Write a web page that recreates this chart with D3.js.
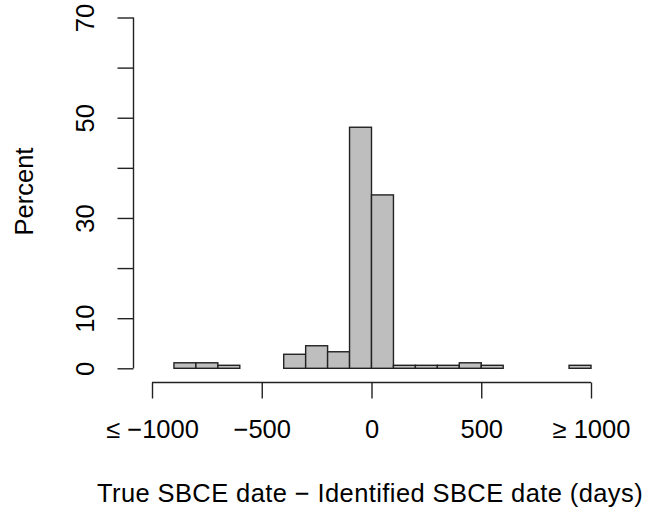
<!DOCTYPE html>
<html>
<head>
<meta charset="utf-8">
<script src="https://cdn.jsdelivr.net/npm/d3@7"></script>
<style>
  body { margin: 0; background: #fff; }
  text { font-family: "Liberation Sans", Arial, sans-serif; fill: #000; }
</style>
</head>
<body>
<div id="chart"></div>
<script>
// histogram bins (days), width 100
const binStarts = [-900, -800, -700, -600, -500, -400, -300, -200, -100, 0, 100, 200, 300, 400, 500, 600, 700, 800, 900];
const percents  = [1.1, 1.1, 0.6, 0, 0, 2.8, 4.5, 3.3, 48.1, 34.6, 0.6, 0.6, 0.6, 1.1, 0.6, 0, 0, 0, 0.6];
const xTicks = [-1000, -500, 0, 500, 1000];
const xTickLabels = ['\u2264 \u22121000', '\u2212500', '0', '500', '\u2265 1000'];
const yTicks = [0, 10, 20, 30, 40, 50, 60, 70];
const yTickLabels = ['0', '10', '', '30', '', '50', '', '70'];

const width = 662, height = 514;
const fs = 25.5;
const svg = d3.select('#chart').append('svg').attr('width', width).attr('height', height);

const x = d3.scaleLinear().domain([-1000, 1000]).range([152, 591]);
const y = d3.scaleLinear().domain([0, 70]).range([368.3, 17.5]);

// bars
svg.append('g').selectAll('rect')
  .data(binStarts.map((s, i) => ({ s, v: percents[i] })))
  .join('rect')
  .attr('x', d => x(d.s))
  .attr('y', d => y(d.v))
  .attr('width', d => x(d.s + 100) - x(d.s))
  .attr('height', d => y(0) - y(d.v))
  .attr('fill', '#bebebe')
  .attr('stroke', '#222')
  .attr('stroke-width', 1.4);

// x axis
const xAxis = d3.axisBottom(x).tickValues(xTicks).tickSize(16).tickPadding(0)
  .tickFormat((d, i) => xTickLabels[i]);
const gx = svg.append('g').attr('transform', 'translate(0,382.5)').call(xAxis);
gx.select('.domain').attr('d', `M${x(-1000)},0H${x(1000)}`).attr('stroke', '#222').attr('stroke-width', 1.4);
gx.selectAll('.tick line').attr('stroke', '#222').attr('stroke-width', 1.4);
gx.selectAll('.tick text')
  .attr('font-size', fs).attr('font-family', '"Liberation Sans", Arial, sans-serif').attr('fill', '#000')
  .attr('y', 55.5).attr('dy', null);

// y axis
const yAxis = d3.axisLeft(y).tickValues(yTicks).tickSize(16).tickPadding(0)
  .tickFormat((d, i) => yTickLabels[i]);
const gy = svg.append('g').attr('transform', 'translate(133.5,0)').call(yAxis);
gy.select('.domain').attr('d', `M0,${y(0)}V${y(70)}`).attr('stroke', '#222').attr('stroke-width', 1.4);
gy.selectAll('.tick line').attr('stroke', '#222').attr('stroke-width', 1.4);
gy.selectAll('.tick text')
  .attr('font-size', fs).attr('font-family', '"Liberation Sans", Arial, sans-serif').attr('fill', '#000')
  .attr('x', null).attr('dy', null)
  .attr('text-anchor', 'middle')
  .attr('transform', 'translate(-48.5,0) rotate(-90)')
  .attr('dominant-baseline', 'central');

// axis titles
svg.append('text')
  .attr('x', 370).attr('y', 502)
  .attr('text-anchor', 'middle')
  .attr('font-size', fs)
  .attr('letter-spacing', 0.4)
  .text('True SBCE date \u2212 Identified SBCE date (days)');

svg.append('text')
  .attr('transform', 'translate(33,191.5) rotate(-90)')
  .attr('text-anchor', 'middle')
  .attr('font-size', fs)
  .text('Percent');
</script>
</body>
</html>
